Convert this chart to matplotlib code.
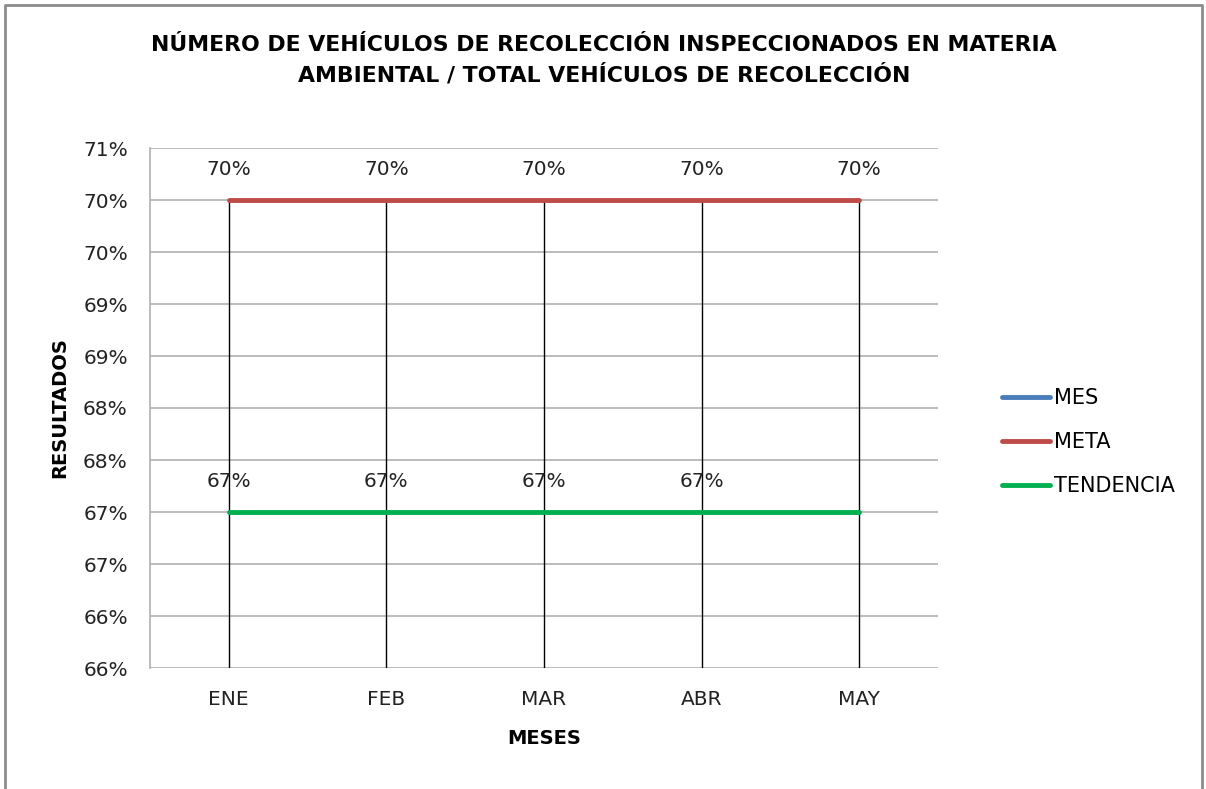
import numpy as np
import matplotlib.pyplot as plt
from matplotlib.lines import Line2D

# data
meses = ['ENE', 'FEB', 'MAR', 'ABR', 'MAY']
mes = [np.nan, np.nan, np.nan, np.nan, np.nan]
meta = [0.705, 0.705, 0.705, 0.705, 0.705]
tendencia = [0.675, 0.675, 0.675, 0.675, 0.675]
meta_labels = ['70%', '70%', '70%', '70%', '70%']
tend_labels = ['67%', '67%', '67%', '67%']
y_ticks = [0.66, 0.665, 0.67, 0.675, 0.68, 0.685, 0.69, 0.695, 0.70, 0.705, 0.71]
y_tick_labels = ['66%', '66%', '67%', '67%', '68%', '68%', '69%', '69%', '70%', '70%', '71%']

plt.rcParams['font.family'] = ['DejaVu Sans']

fig = plt.figure(figsize=(12.06, 7.89), dpi=100)
ax = fig.add_axes([150/1206, 1 - 668/789, 788/1206, 520/789])

x = np.arange(len(meses))

ax.set_xlim(-0.5, len(meses) - 0.5)
ax.set_ylim(0.66, 0.71)

# horizontal gridlines
ax.set_yticks(y_ticks)
ax.set_yticklabels(y_tick_labels, fontsize=14.5, color='#222222')
ax.grid(axis='y', color='#b0b0b0', linewidth=1.2)
ax.set_axisbelow(True)

# drop lines from the highest series down to the axis
top = np.nanmax(np.vstack([meta, tendencia]), axis=0)
ax.vlines(x, 0.66, top, color='black', linewidth=1, zorder=2)

ax.plot(x, mes, color='#4a7ebb', linewidth=3.5, label='MES', zorder=3)
ax.plot(x, meta, color='#be4b48', linewidth=3.5, label='META', zorder=3, solid_capstyle='round')
ax.plot(x, tendencia, color='#00b050', linewidth=3.5, label='TENDENCIA', zorder=3, solid_capstyle='round')

for xi, yi, lab in zip(x, meta, meta_labels):
    ax.annotate(lab, (xi, yi), xytext=(0, 22), textcoords='offset points',
                ha='center', va='center', fontsize=14.5, color='#222222')
for xi, yi, lab in zip(x, tendencia, tend_labels):
    ax.annotate(lab, (xi, yi), xytext=(0, 22), textcoords='offset points',
                ha='center', va='center', fontsize=14.5, color='#222222')

ax.set_xticks(x)
ax.set_xticklabels(meses, fontsize=14.5, color='#222222')
ax.tick_params(axis='y', length=0, pad=16)
ax.tick_params(axis='x', length=0, pad=16)

for s in ['top', 'right', 'bottom']:
    ax.spines[s].set_visible(False)
ax.spines['left'].set_color('#b0b0b0')
ax.spines['left'].set_linewidth(1.2)

ax.set_xlabel('MESES', fontsize=14, fontweight='bold', labelpad=14)
ax.set_ylabel('RESULTADOS', fontsize=14, fontweight='bold', labelpad=10)

fig.text(604/1206, 1 - 60/789,
         'NÚMERO DE VEHÍCULOS DE RECOLECCIÓN INSPECCIONADOS EN MATERIA\nAMBIENTAL / TOTAL VEHÍCULOS DE RECOLECCIÓN',
         ha='center', va='center', fontsize=15.8, fontweight='bold', linespacing=1.5)

handles = [Line2D([], [], color='#4a7ebb', linewidth=3.5, solid_capstyle='round'),
           Line2D([], [], color='#be4b48', linewidth=3.5, solid_capstyle='round'),
           Line2D([], [], color='#00b050', linewidth=3.5, solid_capstyle='round')]
fig.legend(handles, ['MES', 'META', 'TENDENCIA'], loc='center left',
           bbox_to_anchor=(983/1206, 1 - 442/789), frameon=False, fontsize=15,
           handlelength=2.3, handletextpad=0.2, labelspacing=1.15)

# outer chart border
fig.add_artist(Line2D([5/1206, 5/1206, 1202/1206, 1202/1206],
                      [0, 1 - 5/789, 1 - 5/789, 0],
                      transform=fig.transFigure, color='#8c8c8c', linewidth=2))

fig.savefig('out.png', dpi=100)
